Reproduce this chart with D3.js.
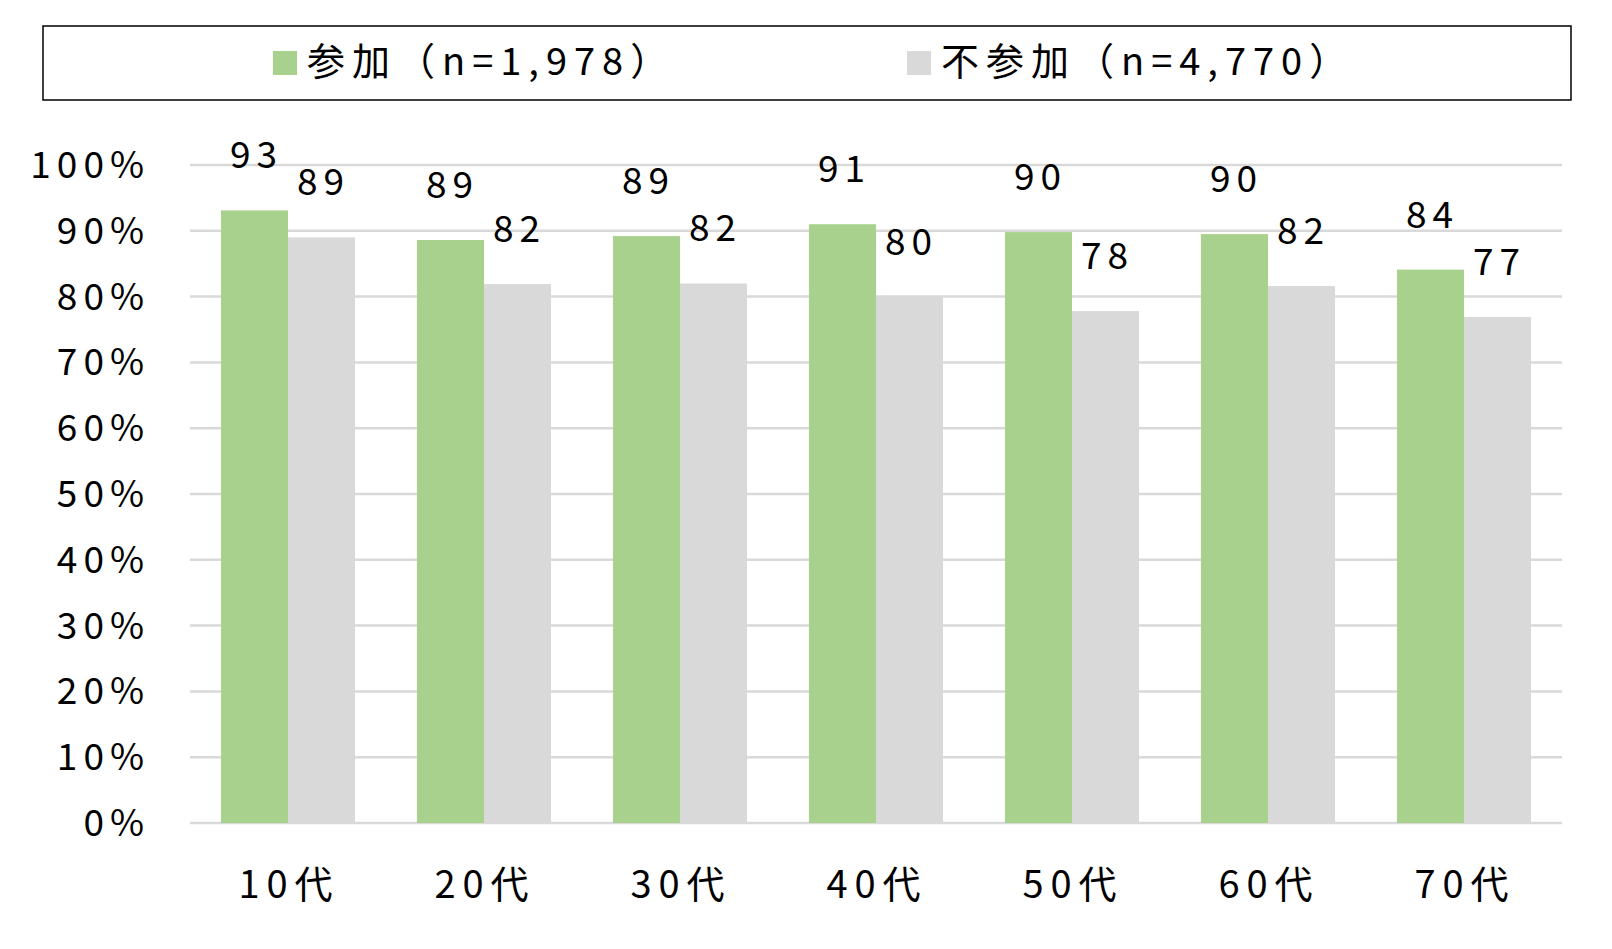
<!DOCTYPE html>
<html>
<head>
<meta charset="utf-8">
<script src="https://d3js.org/d3.v7.min.js"></script>
<style>
  body { margin: 0; background: #fff; }
  text { font-family: "Noto Sans CJK JP", "Noto Sans", sans-serif; fill: #000; }
</style>
</head>
<body>
<div id="chart"></div>
<script>
// data
var categories = ["10代", "20代", "30代", "40代", "50代", "60代", "70代"];
var seriesNames = ["参加（n=1,978）", "不参加（n=4,770）"];
var sanka = [93.1, 88.6, 89.2, 91.0, 89.8, 89.5, 84.1];
var fusanka = [89.0, 81.9, 82.0, 80.0, 77.8, 81.6, 76.9];
var yTicks = [0, 10, 20, 30, 40, 50, 60, 70, 80, 90, 100];
var colors = ["#a9d18e", "#d9d9d9"];

var width = 1612, height = 949;
var plot = {left: 190, right: 1562, top: 165, bottom: 823};

var svg = d3.select("#chart").append("svg")
    .attr("width", width)
    .attr("height", height);

// legend box
svg.append("rect")
    .attr("x", 43).attr("y", 26)
    .attr("width", 1528).attr("height", 74)
    .attr("fill", "none")
    .attr("stroke", "#000")
    .attr("stroke-width", 1.5);

var legendX = [273, 907];
seriesNames.forEach(function(name, i) {
    svg.append("rect")
        .attr("x", legendX[i]).attr("y", 51)
        .attr("width", 24).attr("height", 24)
        .attr("fill", colors[i]);
    svg.append("text")
        .attr("x", legendX[i] + 34)
        .attr("y", 75)
        .attr("font-size", 38)
        .attr("letter-spacing", 7)
        .text(name);
});

// scales
var x0 = d3.scaleBand()
    .domain(categories)
    .range([plot.left, plot.right])
    .paddingInner(0.316)
    .paddingOuter(0.158);

var x1 = d3.scaleBand()
    .domain([0, 1])
    .range([0, x0.bandwidth()]);

var y = d3.scaleLinear()
    .domain([0, 100])
    .range([plot.bottom, plot.top]);

// gridlines
svg.append("g")
    .selectAll("line")
    .data(yTicks)
    .join("line")
    .attr("x1", plot.left).attr("x2", plot.right)
    .attr("y1", d => y(d)).attr("y2", d => y(d))
    .attr("stroke", "#d9d9d9")
    .attr("stroke-width", 2.5);

// y axis labels
svg.append("g")
    .selectAll("text")
    .data(yTicks)
    .join("text")
    .attr("x", 150)
    .attr("y", d => y(d) + 13)
    .attr("text-anchor", "end")
    .attr("font-size", 37)
    .attr("letter-spacing", 6)
    .text(d => d + "%");

// bars
var rows = categories.map(function(c, i) {
    return {cat: c, vals: [sanka[i], fusanka[i]]};
});

var groups = svg.append("g")
    .selectAll("g")
    .data(rows)
    .join("g")
    .attr("transform", d => "translate(" + x0(d.cat) + ",0)");

groups.selectAll("rect")
    .data(d => d.vals.map((v, k) => ({k: k, v: v})))
    .join("rect")
    .attr("x", d => x1(d.k))
    .attr("y", d => y(d.v))
    .attr("width", x1.bandwidth())
    .attr("height", d => y(0) - y(d.v))
    .attr("fill", d => colors[d.k]);

// value labels
groups.selectAll("text")
    .data(d => d.vals.map((v, k) => ({k: k, v: v})))
    .join("text")
    .attr("x", d => x1(d.k) + x1.bandwidth() / 2 + 2)
    .attr("y", d => y(d.v) - 42)
    .attr("text-anchor", "middle")
    .attr("font-size", 37)
    .attr("letter-spacing", 6)
    .text(d => Math.round(d.v));

// x axis labels
svg.append("g")
    .selectAll("text")
    .data(categories)
    .join("text")
    .attr("x", d => x0(d) + x0.bandwidth() / 2 + 1)
    .attr("y", 898)
    .attr("text-anchor", "middle")
    .attr("font-size", 38)
    .attr("letter-spacing", 7)
    .text(d => d);
</script>
</body>
</html>
